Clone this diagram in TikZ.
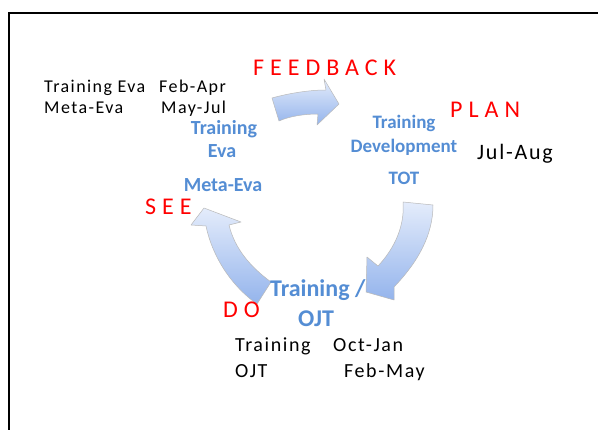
\documentclass[tikz,border=0pt]{standalone}
\usepackage{fontspec}
\setmainfont{Carlito}
\newfontfamily\notefont[LetterSpace=8]{Carlito}
\newfontfamily\stagefont[LetterSpace=25]{Carlito}
\definecolor{stageblue}{RGB}{84,141,212}
\definecolor{stagered}{RGB}{255,0,0}
\definecolor{arrowlight}{RGB}{228,236,251}
\definecolor{arrowdark}{RGB}{148,180,236}
\tikzset{
  note/.style={inner sep=0pt, anchor=base west, font=\notefont\fontsize{18}{20}\selectfont, text=black},
  stage/.style={inner sep=0pt, anchor=base west, font=\stagefont\fontsize{24}{26}\selectfont, text=stagered},
  task/.style={inner sep=0pt, anchor=base, font=\bfseries\fontsize{20}{22}\selectfont, text=stageblue},
  cyclearrow/.style={top color=arrowlight, bottom color=arrowdark, draw=gray!55, line width=0.5pt, line join=round}
}
\begin{document}
\begin{tikzpicture}[x=1pt,y=-1pt]
\useasboundingbox (0,0) rectangle (598,430);
\clip (0,0) rectangle (598,430);
\fill[white] (0,0) rectangle (598,430);
% slide frame
\draw[line width=2pt] (9,445) |- (615,12.7);

% cycle arrows
\path[cyclearrow] (272,98) .. controls (290,93) and (310,90) .. (326,90)
  -- (324,79) -- (339,104) -- (317,125) -- (318,114)
  .. controls (305,114) and (290,116) .. (279,121) -- cycle;
\path[cyclearrow] (403,202) .. controls (405,225) and (395,248) .. (378,266)
  -- (367,257) -- (366,292) -- (394,300) -- (394,287)
  .. controls (418,262) and (433,235) .. (433,205) -- cycle;
\path[cyclearrow] (257,304) .. controls (230,285) and (212,255) .. (206,226)
  -- (191,225) -- (204,208) -- (241,222) -- (229,225)
  .. controls (235,250) and (252,268) .. (271,282) -- cycle;

% stage names
\node[stage] (feedback) at (253,76) {FEEDBACK};
\node[stage] (plan) at (450,118) {PLAN};
\node[stage] (see) at (145,215) {SEE};
\node[stage] (do) at (223,318) {DO};

% tasks on the cycle
\node[task] (evaA) at (224,135) {Training};
\node[task] (evaB) at (222,158) {Eva};
\node[task] (evaC) at (223,192) {Meta-Eva};
\node[task, font=\bfseries\fontsize{19}{21}\selectfont] (devA) at (404,129) {Training};
\node[task, font=\bfseries\fontsize{19}{21}\selectfont] (devB) at (404,153) {Development};
\node[task, font=\bfseries\fontsize{19}{21}\selectfont] (devC) at (404,185) {TOT};
\node[task, anchor=base west, font=\bfseries\fontsize{24}{26}\selectfont] (trnA) at (270,297) {Training /};
\node[task, font=\bfseries\fontsize{24}{26}\selectfont] (trnB) at (316,327) {OJT};

% schedules
\node[note] (s1a) at (44,93) {Training Eva};
\node[note] (s1b) at (159,93) {Feb-Apr};
\node[note] (s2a) at (44,114) {Meta-Eva};
\node[note] (s2b) at (161,114) {May-Jul};
\node[note, font=\notefont\fontsize{22}{24}\selectfont] (s3) at (477,160) {Jul-Aug};
\node[note, font=\notefont\fontsize{20}{22}\selectfont] (s4a) at (235,352) {Training};
\node[note, font=\notefont\fontsize{20}{22}\selectfont] (s4b) at (333,352) {Oct-Jan};
\node[note, font=\notefont\fontsize{20}{22}\selectfont] (s5a) at (235,378) {OJT};
\node[note, font=\notefont\fontsize{20}{22}\selectfont] (s5b) at (344,378) {Feb-May};
\end{tikzpicture}
\end{document}
